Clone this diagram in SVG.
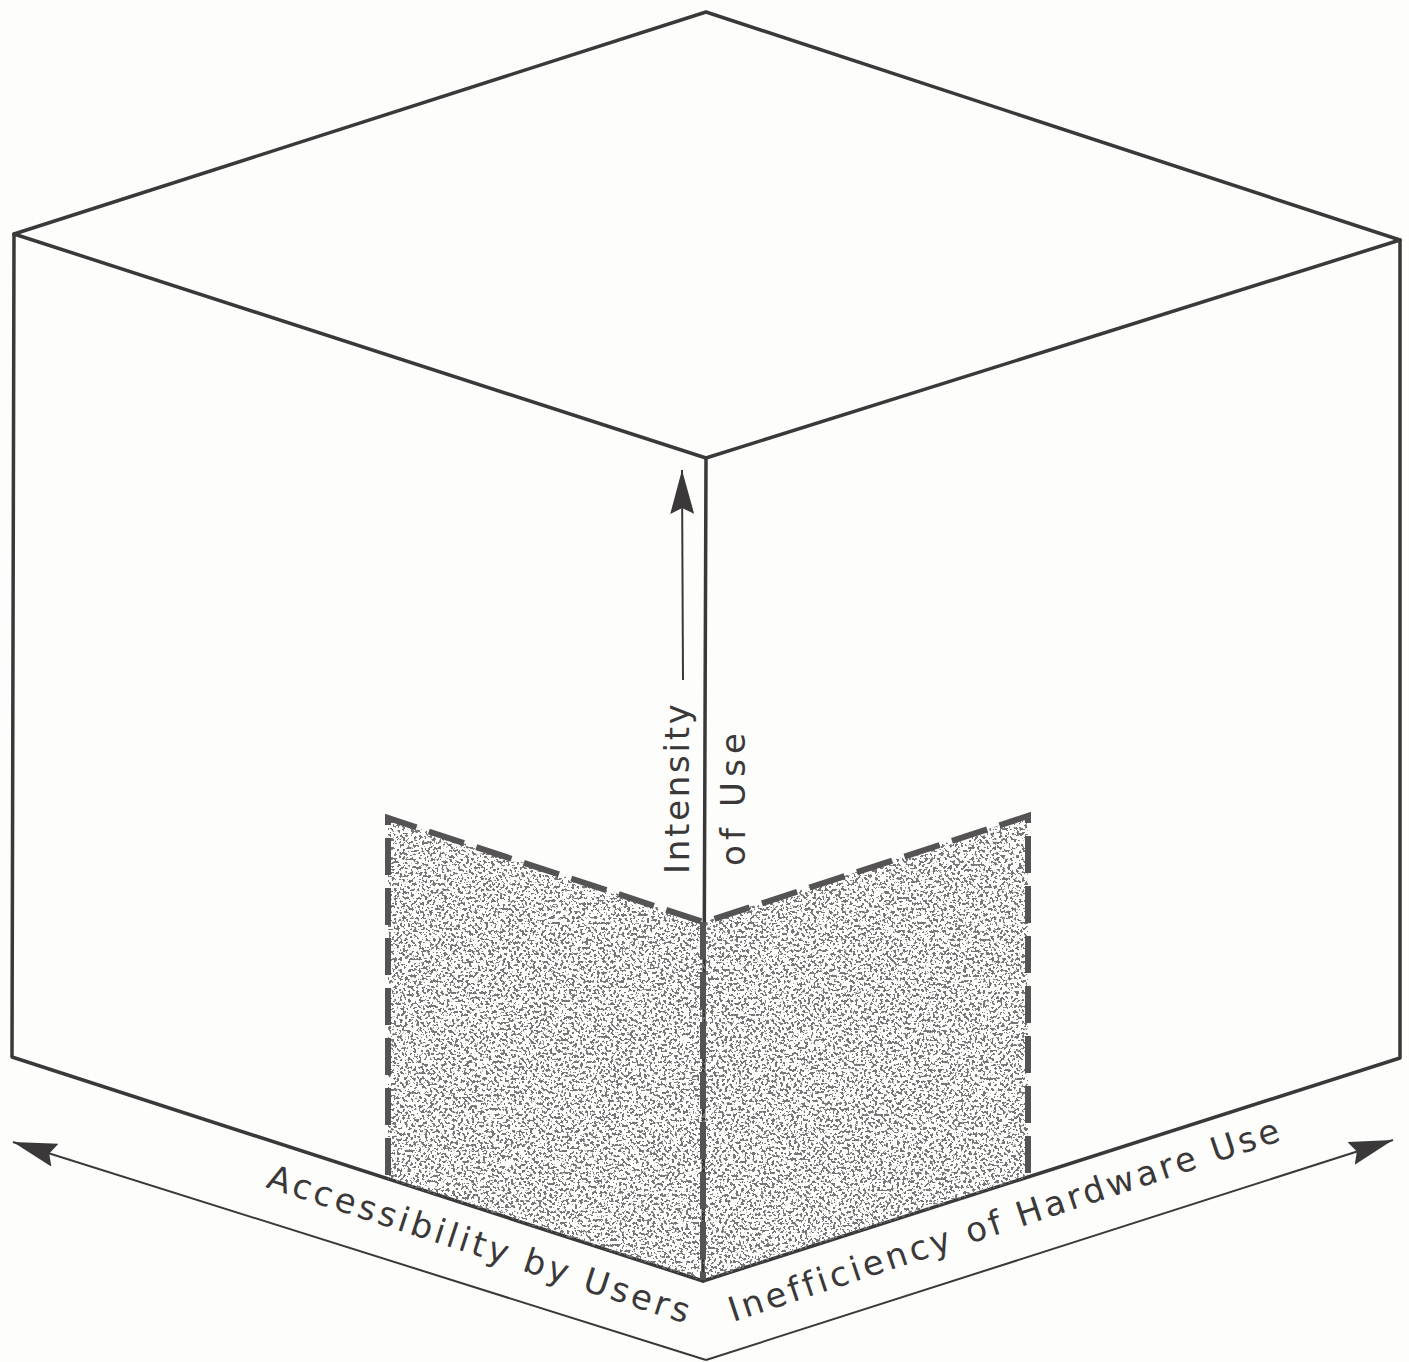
<svg xmlns="http://www.w3.org/2000/svg" width="1409" height="1362" viewBox="0 0 1409 1362">
  <defs>
    <style>
      .edge{fill:none;stroke:#3a3839;stroke-width:3.5;stroke-linejoin:round;stroke-linecap:round}
      .axis{fill:none;stroke:#3a3839;stroke-width:2}
      .dash{fill:none;stroke:#555354;stroke-width:6;stroke-dasharray:37 13}
      .lbl{font-family:"DejaVu Sans","Liberation Sans",sans-serif;font-size:34px;fill:#3a3839;font-variant-ligatures:none}
    </style>
    <marker id="ah" viewBox="0 0 44 24" refX="44" refY="12" markerWidth="44" markerHeight="24" markerUnits="userSpaceOnUse" orient="auto">
      <path d="M0,0 L44,12 L0,24 L6,12 z" fill="#3a3839"/>
    </marker>
    <filter id="stip" x="0" y="0" width="1" height="1">
      <feTurbulence type="fractalNoise" baseFrequency="0.36" numOctaves="2" seed="7" result="n"/>
      <feColorMatrix in="n" type="matrix" values="0 0 0 0 0.18  0 0 0 0 0.18  0 0 0 0 0.18  -26 0 0 0 11.9" result="d"/>
      <feComposite in="d" in2="SourceGraphic" operator="in"/>
    </filter>
  </defs>
  <rect width="1409" height="1362" fill="#fdfdfb"/>

  <g id="cube">
    <path class="edge" d="M706,12 L1400,240 L1400,1058 L703,1281 L12,1057 L14,234 Z"/>
    <path class="edge" d="M14,234 L706,458 L1400,240"/>
    <path class="edge" d="M706,458 L703,1281"/>
  </g>

  <g id="region">
    <polygon points="388,818 703,922 1028,816 1028,1177 703,1281 388,1179" fill="#000" filter="url(#stip)"/>
    <path class="dash" d="M388,1175 L388,818 L703,922"/>
    <path class="dash" d="M1028,1173 L1028,816 L705,922"/>
    <path class="dash" d="M703,922 L703,1280"/>
  </g>

  <g id="connectors">
    <path class="axis" d="M706,1360 L13,1142" marker-end="url(#ah)"/>
    <path class="axis" d="M706,1360 L1393,1140" marker-end="url(#ah)"/>
    <path class="axis" d="M683,680 L682,470" marker-end="url(#ah)"/>
  </g>

  <g id="labels">
    <text class="lbl" transform="translate(689,874) rotate(-90)" textLength="170" lengthAdjust="spacing">Intensity</text>
    <text class="lbl" transform="translate(745,866) rotate(-90)" textLength="133" lengthAdjust="spacing">of Use</text>
    <text class="lbl" transform="translate(265,1187) rotate(18)" textLength="442" lengthAdjust="spacing">Accessibility by Users</text>
    <text class="lbl" transform="translate(733,1322) rotate(-18.3)" textLength="578" lengthAdjust="spacing">Inefficiency of Hardware Use</text>
  </g>
</svg>
